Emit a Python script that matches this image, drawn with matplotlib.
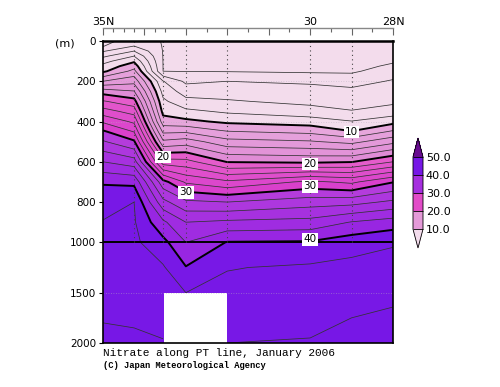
import numpy as np
import matplotlib

matplotlib.use("Agg")
import matplotlib.pyplot as plt
from matplotlib.colors import ListedColormap, BoundaryNorm, to_rgb

# station latitudes (deg N) and sampling depths (m)
lats = [35.0, 34.25, 33.55, 33.0, 32.0, 30.0, 29.0, 28.0]
depths = [0, 25, 50, 75, 100, 125, 150, 200, 250, 300, 350, 400, 450, 500,
          600, 700, 800, 900, 1000, 1250, 1500, 1750, 2000]

# nitrate (umol/kg) per station, one value per depth; None = no data
no3_350 = [1.3, 1.9, 3.8, 5.6, 7.3, 8.6, 9.6, 14.0, 19.1, 22.2, 24.9, 27.7, 30.3, 32.2,
           36.0, 39.8, 41.2, 42.1, 42.3, 42.8, 43.3, 43.9, 44.4]
no3_343 = [3.0, 4.0, 6.0, 8.0, 9.7, 11.2, 12.6, 15.3, 18.1, 20.8, 23.2, 25.6, 27.9, 30.3,
           34.9, 39.5, 42.0, 42.2, 42.4, 42.9, 43.3, 43.8, 44.3]
no3_336 = [1.9, 1.9, 1.92, 1.94, 1.96, 1.98, 2.0, 6.1, 7.3, 8.4, 9.4, 10.9, 13.6, 16.4,
           22.9, 30.7, 34.6, 38.4, 40.6, 42.2, 42.9, 43.5, 44.1]
no3_330 = [0.3, 0.5, 0.8, 1.1, 1.4, 1.7, 1.95, 3.6, 5.1, 6.6, 8.5, 10.5, 13.7, 17.0,
           22.7, 27.7, 32.4, 36.0, 38.0, 40.1, 42.0, None, None]
no3_320 = [0.3, 0.5, 0.8, 1.1, 1.4, 1.7, 1.9, 4.0, 5.1, 6.2, 7.7, 9.6, 12.1, 14.7,
           19.9, 26.4, 32.0, 36.4, 40.1, 41.9, 42.6, 43.3, 44.0]
no3_300 = [0.3, 0.5, 0.7, 0.9, 1.1, 1.4, 1.7, 3.7, 4.7, 5.5, 6.8, 9.0, 11.5, 14.2,
           19.6, 28.4, 33.1, 36.7, 40.2, 42.3, 42.9, 43.6, 44.1]
no3_290 = [0.3, 0.5, 0.7, 0.9, 1.1, 1.4, 1.7, 3.2, 4.5, 5.3, 6.1, 8.1, 10.1, 13.4,
           19.9, 27.6, 33.3, 38.1, 41.1, 42.6, 43.3, 44.0, 44.7]
no3_280 = [0.4, 0.8, 1.1, 1.5, 1.8, 2.3, 3.0, 4.2, 5.0, 5.6, 6.9, 9.3, 12.3, 15.4,
           22.0, 29.9, 34.4, 38.9, 41.8, 42.8, 43.6, 44.3, 45.1]

profiles = [no3_350, no3_343, no3_336, no3_330, no3_320, no3_300, no3_290, no3_280]
field = np.ma.masked_invalid(np.array(profiles, dtype=float).T)

band_edges = [10, 20, 30, 40, 50]
band_colors = ["#e49ad8", "#e24cc8", "#a62fdf", "#7617e6"]
under_color = "#f3dcec"
over_color = "#680c90"
# the filled plot shades each band slightly from its light end to its dark end
band_shades = [("#e7a6dc", "#e08cd6"), ("#e55ccb", "#d940cc"),
               ("#b43cdc", "#9826e2"), ("#7818e6", "#7616e6")]


def fwd(d):
    d = np.asarray(d, dtype=float)
    return np.where(d <= 1000, d, 1000 + (d - 1000) / 2)


def inv(y):
    y = np.asarray(y, dtype=float)
    return np.where(y <= 1000, y, 1000 + (y - 1000) * 2)


fig = plt.figure(figsize=(5.0, 3.87), dpi=100)
ax = fig.add_axes([103 / 500, 44 / 387, 290 / 500, 302 / 387])
ax.set_yscale("function", functions=(fwd, inv))

X, Y = np.meshgrid(lats, depths)
fill_levels = [-10, 10]
fill_colors = [under_color]
for (lo, hi), edge in zip(band_shades, band_edges[:-1]):
    c0, c1 = np.array(to_rgb(lo)), np.array(to_rgb(hi))
    for k in range(5):
        fill_levels.append(edge + 2 * (k + 1))
        fill_colors.append(tuple(c0 + (c1 - c0) * k / 4))
fill_levels.append(100)
fill_colors.append(over_color)
ax.contourf(X, Y, field, levels=fill_levels, colors=fill_colors, corner_mask=False)

# faint depth grid
for d in [200, 400, 1500]:
    ax.axhline(d, color="#b8b0c0", lw=0.6, ls=(0, (1, 2)), alpha=0.6)

thin = [v for v in range(2, 50, 2) if v % 10]
ax.contour(X, Y, field, levels=thin, colors="#333333", linewidths=0.55,
           corner_mask=False)
ax.contour(X, Y, field, levels=[10, 20, 30, 40], colors="k", linewidths=1.4,
           corner_mask=False)
ax.axhline(1000, color="k", lw=1.4)

# station lines
for la in lats[1:-1]:
    ax.plot([la, la], [0, 1000], ls=(0, (1, 3)), color="#444444", lw=0.8)

# contour labels
for la, dep, txt in [(29.0, 452, "10"), (33.55, 577, "20"), (30.0, 612, "20"),
                     (33.0, 752, "30"), (30.0, 722, "30"), (30.0, 985, "40")]:
    ax.text(la, dep, txt, ha="center", va="center", fontsize=7.5,
            bbox=dict(boxstyle="square,pad=0.12", fc="white", ec="none"))

ax.set_xlim(35, 28)
ax.set_ylim(2000, 0)
ax.set_yticks([0, 200, 400, 600, 800, 1000, 1500, 2000])
ax.set_yticklabels(["0", "200", "400", "600", "800", "1000", "1500", "2000"],
                   fontsize=7.5)
ax.yaxis.set_minor_locator(matplotlib.ticker.NullLocator())
ax.tick_params(axis="y", direction="out", length=3, width=0.8, pad=2)
ax.set_xticks([])
for s in ax.spines.values():
    s.set_linewidth(1.2)
ax.spines["top"].set_linewidth(1.8)
fig.text(65 / 500, 1 - 43 / 387, "(m)", ha="center", va="center", fontsize=8)

# latitude axis above the frame
sec = ax.secondary_xaxis(1 + 13 / 302)
sec.set_xticks([35, 34, 33, 32, 31, 30, 29, 28])
sec.set_xticklabels(["35N", "", "", "", "", "30", "", "28N"], fontsize=8)
sec.set_xticks([34.75, 34.5, 34.25, 33.75, 33.5, 32.5, 31.5, 30.5, 29.5, 28.5],
               minor=True)
sec.tick_params(which="major", direction="in", length=5, width=0.8, color="#666666", pad=1)
sec.tick_params(which="minor", direction="in", length=3, width=0.8, color="#666666")
sec.spines["top"].set_color("#888888")
sec.spines["top"].set_linewidth(1.0)

fig.text(103 / 500, 1 - 353 / 387, "Nitrate along PT line, January 2006",
         fontsize=8, family="Liberation Mono", va="center", ha="left")
fig.text(103 / 500, 1 - 366 / 387, "(C) Japan Meteorological Agency",
         fontsize=6.3, family="Liberation Mono", weight="bold", va="center", ha="left")

# colour bar
cax = fig.add_axes([413 / 500, 1 - 248 / 387, 10 / 500, 110 / 387])
cmap = ListedColormap(band_colors)
cmap.set_under(under_color)
cmap.set_over(over_color)
norm = BoundaryNorm(band_edges, cmap.N)
sm = matplotlib.cm.ScalarMappable(norm=norm, cmap=cmap)
cb = fig.colorbar(sm, cax=cax, extend="both", extendfrac=0.26, drawedges=True)
cb.set_ticks(band_edges)
cb.set_ticklabels([f"{v:.1f}" for v in band_edges])
cb.ax.tick_params(length=0, labelsize=8, pad=2)
cb.outline.set_linewidth(0.6)
cb.dividers.set_linewidth(0.6)

fig.savefig("out.png", dpi=100)
